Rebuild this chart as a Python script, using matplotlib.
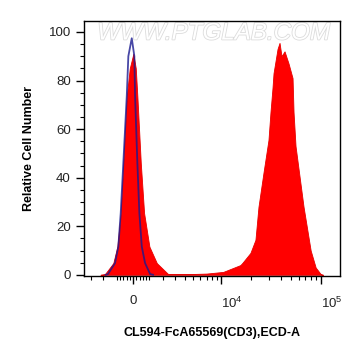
import numpy as np
import matplotlib
matplotlib.use("Agg")
import matplotlib.pyplot as plt
import matplotlib.patheffects as pe

plt.rcParams['font.family'] = ['Liberation Sans', 'DejaVu Sans']
plt.rcParams['mathtext.fontset'] = 'custom'
plt.rcParams['mathtext.rm'] = 'Liberation Sans'
plt.rcParams['mathtext.default'] = 'regular'

# CD3 stained sample (red filled histogram), intensity vs relative count
rojo_x = [-2200, -1851, -1259, -991, -770, -604, -390, -204, 18, 167, 266,
          478, 687, 1030, 1537, 2400, 3013, 4636, 7000, 10473,
          15639, 16382, 19740, 22180, 23790, 26690, 29960, 31380, 32880, 33660,
          36910, 38650, 40470, 43370, 47550, 52140, 53340, 55840, 67130, 79060,
          88690, 99480, 105000]
rojo_y = [0, 0.3, 4.8, 11.6, 25.4, 46, 73.4, 85, 91, 85, 73.4,
          46, 25.4, 11.6, 4.8, 0.3, 0.3, 0.3, 0.5, 1.2,
          4, 4.9, 9, 14.4, 28, 42, 55.5, 67, 77, 83,
          93, 95.5, 90, 92, 87, 81, 67, 53, 28, 10,
          3, 0.3, 0]

# isotype control (blue line)
azul_x = [-1800, -1631, -1144, -925, -770, -604, -390, -291, -80,
          80, 124, 266, 390, 541, 750, 1077, 1279]
azul_y = [0, 0.3, 4.8, 11.6, 25.4, 46, 73.4, 90, 97.4,
          90, 73.4, 46, 25.4, 11.6, 4.8, 0.3, 0]

C = 2682.0
def directa(x):
    return np.arcsinh(np.asarray(x, dtype=float) / C) / np.log(10)

def inversa(y):
    return C * np.sinh(np.asarray(y, dtype=float) * np.log(10))

fig = plt.figure(figsize=(3.61, 3.56), dpi=100)
ax = fig.add_axes([0.2327, 0.2247, 0.7091, 0.7163])
ax.set_xscale('function', functions=(directa, inversa))

ax.fill_between(rojo_x, rojo_y, 0, color='#ff0000', lw=0.6, edgecolor='#e80000', zorder=2)
ax.plot(azul_x, azul_y, color='#1a1a90', lw=1.3, alpha=0.8, zorder=3)

ax.set_xlim(-3700, 155000)
ax.set_ylim(-0.5, 104.5)

ax.set_xticks([0, 1e4, 1e5])
ax.set_xticklabels(['0', '$10^4$', '$10^5$'])
menores = [-3000, -2000] + list(range(-1000, 0, 200)) + list(range(200, 1001, 200)) \
    + [2000, 3000, 4000, 5000, 6000, 7000, 8000, 9000] \
    + [20000, 30000, 40000, 50000, 60000, 70000, 80000, 90000]
ax.set_xticks(menores, minor=True)
for lab in ax.get_xticklabels()[1:]:
    lab.set_ha('left')

ax.set_yticks(range(0, 101, 20))
ax.set_yticks(range(5, 101, 5), minor=True)

ax.tick_params(axis='both', which='major', direction='out', length=6, width=1,
               labelsize=9.5, labelcolor='#222222', color='black')
ax.tick_params(axis='both', which='minor', direction='out', length=3, width=0.8)
ax.tick_params(axis='x', which='major', pad=8)
for s in ax.spines.values():
    s.set_linewidth(1)

ax.set_xlabel('CL594-FcA65569(CD3),ECD-A', fontsize=9, fontweight='bold', labelpad=12)
ax.set_ylabel('Relative Cell Number', fontsize=9, fontweight='bold', labelpad=10)

# marca de agua
ax.text(0.506, 0.953, 'WWW.PTGLAB.COM', transform=ax.transAxes, ha='center', va='center',
        fontsize=17.4, style='italic', color='white', zorder=1,
        path_effects=[pe.withStroke(linewidth=1.2, foreground='#dcdcdc')])

fig.savefig('out.png', dpi=100)
